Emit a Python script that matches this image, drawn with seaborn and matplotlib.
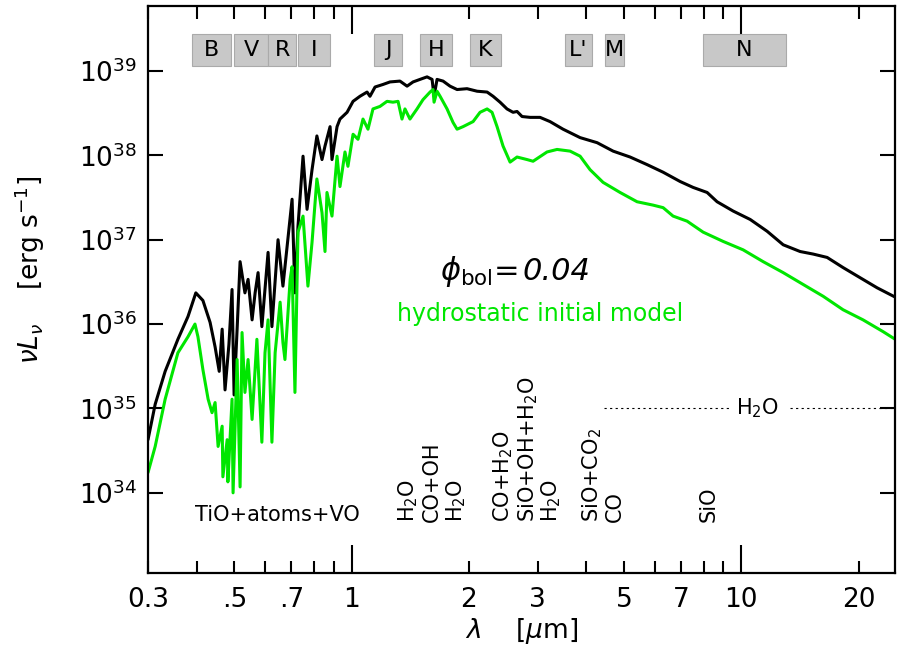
import numpy as np
import pandas as pd
import seaborn as sns
import matplotlib.pyplot as plt
from matplotlib.ticker import FixedLocator, FixedFormatter, NullLocator

# wavelength [micron] and log10(nu L_nu)
lam_dyn = [0.300, 0.313, 0.332, 0.358, 0.380, 0.398, 0.415, 0.433, 0.446, 0.457,
           0.465, 0.473, 0.484, 0.493, 0.499, 0.508, 0.517, 0.532, 0.542, 0.555,
           0.565, 0.575, 0.588, 0.610, 0.624, 0.647, 0.666, 0.703, 0.715, 0.728,
           0.750, 0.768, 0.791, 0.814, 0.839, 0.854, 0.880, 0.890, 0.917, 0.933,
           0.973, 1.008, 1.050, 1.095, 1.114, 1.148, 1.203, 1.254, 1.330, 1.387,
           1.437, 1.497, 1.561, 1.608, 1.627, 1.656, 1.716, 1.788, 1.864, 1.977,
           2.098, 2.226, 2.306, 2.403, 2.504, 2.595, 2.657, 2.737, 2.870, 3.044,
           3.229, 3.487, 3.857, 4.265, 4.688, 5.183, 5.731, 6.300, 6.966, 7.521,
           8.171, 8.667, 9.528, 10.54, 11.65, 12.81, 14.16, 15.29, 16.61, 18.25,
           20.18, 22.32, 24.83]
logL_dyn = [34.63, 35.05, 35.44, 35.82, 36.09, 36.37, 36.28, 36.02, 35.73, 35.44,
            35.94, 35.22, 35.76, 36.41, 35.16, 35.94, 36.74, 36.37, 36.53, 36.05,
            36.37, 36.61, 35.97, 36.85, 35.97, 37.00, 36.45, 37.48, 36.37, 37.16,
            37.99, 37.36, 37.83, 38.23, 37.95, 38.11, 38.34, 37.95, 38.34, 38.43,
            38.51, 38.64, 38.70, 38.75, 38.70, 38.81, 38.84, 38.87, 38.88, 38.82,
            38.87, 38.90, 38.93, 38.90, 38.70, 38.90, 38.88, 38.82, 38.78, 38.79,
            38.76, 38.75, 38.70, 38.63, 38.55, 38.51, 38.52, 38.46, 38.45, 38.45,
            38.40, 38.31, 38.21, 38.15, 38.05, 37.98, 37.89, 37.80, 37.69, 37.62,
            37.56, 37.45, 37.34, 37.24, 37.10, 36.94, 36.86, 36.83, 36.79, 36.67,
            36.55, 36.43, 36.32]

lam_hyd = [0.300, 0.313, 0.332, 0.358, 0.380, 0.396, 0.403, 0.415, 0.428, 0.438,
           0.446, 0.454, 0.465, 0.467, 0.479, 0.481, 0.493, 0.496, 0.508, 0.517,
           0.523, 0.532, 0.542, 0.555, 0.571, 0.588, 0.599, 0.610, 0.624, 0.636,
           0.655, 0.666, 0.674, 0.695, 0.703, 0.715, 0.728, 0.750, 0.772, 0.791,
           0.814, 0.839, 0.854, 0.864, 0.890, 0.917, 0.933, 0.961, 0.978, 1.008,
           1.038, 1.069, 1.101, 1.134, 1.182, 1.232, 1.276, 1.315, 1.346, 1.370,
           1.411, 1.471, 1.524, 1.589, 1.617, 1.627, 1.656, 1.686, 1.757, 1.820,
           1.864, 1.931, 2.049, 2.135, 2.226, 2.292, 2.361, 2.446, 2.550, 2.657,
           2.819, 2.921, 3.172, 3.366, 3.635, 3.857, 4.091, 4.417, 4.885, 5.401,
           5.937, 6.300, 6.682, 7.259, 7.979, 8.981, 10.11, 11.38, 12.81, 14.41,
           16.22, 18.25, 20.54, 23.13, 24.83]
logL_hyd = [34.24, 34.55, 35.11, 35.66, 35.85, 36.00, 35.85, 35.46, 35.11, 34.95,
            35.07, 34.55, 34.79, 34.19, 34.63, 34.13, 35.11, 34.00, 35.58, 34.07,
            35.90, 35.19, 35.58, 34.87, 35.82, 34.60, 35.66, 36.05, 34.60, 35.66,
            36.26, 35.78, 35.58, 36.53, 36.68, 35.19, 37.09, 37.28, 36.45, 36.97,
            37.72, 37.32, 36.86, 37.56, 37.28, 37.99, 37.63, 38.04, 37.87, 38.25,
            38.19, 38.43, 38.31, 38.55, 38.58, 38.64, 38.63, 38.64, 38.43, 38.55,
            38.43, 38.55, 38.66, 38.75, 38.78, 38.63, 38.76, 38.70, 38.55, 38.39,
            38.31, 38.34, 38.40, 38.51, 38.55, 38.51, 38.34, 38.11, 37.92, 37.98,
            37.95, 37.93, 38.04, 38.07, 38.05, 37.99, 37.83, 37.68, 37.56, 37.45,
            37.41, 37.38, 37.28, 37.22, 37.09, 36.98, 36.88, 36.74, 36.61, 36.47,
            36.33, 36.17, 36.05, 35.91, 35.82]

# photometric bands (wavelength ranges in micron)
bands = ['B', 'V', 'R', 'I', 'J', 'H', 'K', "L'", 'M', 'N']
band_lo = [0.39, 0.50, 0.61, 0.73, 1.14, 1.50, 2.01, 3.53, 4.47, 7.99]
band_hi = [0.49, 0.61, 0.72, 0.88, 1.35, 1.81, 2.42, 4.13, 5.00, 13.0]

# molecular features
mol_labels = ['H$_2$O', 'CO+OH', 'H$_2$O', 'CO+H$_2$O', 'SiO+OH+H$_2$O',
              'H$_2$O', 'SiO+CO$_2$', 'CO', 'SiO']
mol_lam = [1.40, 1.61, 1.85, 2.45, 2.84, 3.25, 4.14, 4.74, 8.22]

# x tick labels
xmajor = [1, 10]
xminor = [0.3, 0.4, 0.5, 0.6, 0.7, 0.8, 0.9, 2, 3, 4, 5, 6, 7, 8, 9, 20]
xminor_lab = ['0.3', '', '.5', '', '.7', '', '', '2', '3', '', '5', '', '7', '', '', '20']

df = pd.concat([
    pd.DataFrame({'lam': lam_dyn, 'L': 10.0 ** np.array(logL_dyn), 'model': 'dyn'}),
    pd.DataFrame({'lam': lam_hyd, 'L': 10.0 ** np.array(logL_hyd), 'model': 'hyd'}),
])

sns.set_style('ticks', rc={'axes.edgecolor': 'black', 'text.color': 'black',
                           'axes.labelcolor': 'black', 'xtick.color': 'black',
                           'ytick.color': 'black'})
plt.rcParams['font.family'] = ['DejaVu Sans']
plt.rcParams['mathtext.fontset'] = 'dejavusans'

green = '#00e600'
fig = plt.figure(figsize=(9.03, 6.59), dpi=100)
ax = fig.add_axes([0.1639, 0.1305, 0.8272, 0.8604])

sns.lineplot(data=df, x='lam', y='L', hue='model', palette={'dyn': 'black', 'hyd': green},
             estimator=None, sort=False, lw=2.2, legend=False, ax=ax)

ax.set_xscale('log')
ax.set_yscale('log')
ax.set_xlim(0.3, 24.8)
ax.set_ylim(10 ** 33.05, 10 ** 39.77)

# bands
for b, lo, hi in zip(bands, band_lo, band_hi):
    ax.axvspan(lo, hi, ymin=0.894, ymax=0.951, facecolor='#c8c8c8', edgecolor='#aaaaaa', lw=0.8)
    ax.text(np.sqrt(lo * hi), 0.9225, b, transform=ax.get_xaxis_transform(),
            ha='center', va='center', fontsize=16)

# annotations
for lab, lam in zip(mol_labels, mol_lam):
    ax.text(lam, 10 ** 33.66, lab, rotation=90, ha='center', va='bottom', fontsize=15)
ax.text(0.643, 10 ** 33.74, 'TiO+atoms+VO', ha='center', va='center', fontsize=15)
ax.plot([4.45, 9.3], [1e35, 1e35], color='black', ls=(0, (2, 3)), lw=0.8)
ax.plot([13.3, 24.8], [1e35, 1e35], color='black', ls=(0, (2, 3)), lw=0.8)
ax.text(11.0, 1e35, 'H$_2$O', ha='center', va='center', fontsize=15)
ax.text(1.686, 10 ** 36.62, r'$\phi_{\mathrm{bol}}$=', ha='left', va='center', fontsize=22)
ax.text(2.74, 10 ** 36.62, '0.04', style='italic', ha='left', va='center', fontsize=22)
ax.text(1.306, 10 ** 36.12, 'hydrostatic initial model', color=green, ha='left', va='center', fontsize=17)

# ticks
ax.xaxis.set_major_locator(FixedLocator(xmajor))
ax.xaxis.set_major_formatter(FixedFormatter(['1', '10']))
ax.xaxis.set_minor_locator(FixedLocator(xminor))
ax.xaxis.set_minor_formatter(FixedFormatter(xminor_lab))
ax.yaxis.set_major_locator(FixedLocator([10.0 ** k for k in range(34, 40)]))
ax.yaxis.set_major_formatter(FixedFormatter(['$10^{%d}$' % k for k in range(34, 40)]))
ax.yaxis.set_minor_locator(NullLocator())

ax.tick_params(axis='both', which='both', direction='in', top=True, right=True, width=1.5,
               labelsize=19, color='black', labelcolor='black')
ax.tick_params(axis='x', which='major', length=20, pad=10)
ax.tick_params(axis='x', which='minor', length=9, pad=10)
ax.tick_params(axis='y', which='major', length=11, pad=8)
for s in ax.spines.values():
    s.set_linewidth(1.6)
    s.set_color('black')

ax.set_xlabel(r'$\lambda$    [$\mu$m]', fontsize=19, labelpad=2)
ax.set_ylabel('')
fig.text(30 / 903, 1 - 270 / 659, r'$\nu L_\nu$    [erg s$^{-1}$]', rotation=90,
         ha='center', va='center', fontsize=19)

fig.savefig('out.png', dpi=100)
